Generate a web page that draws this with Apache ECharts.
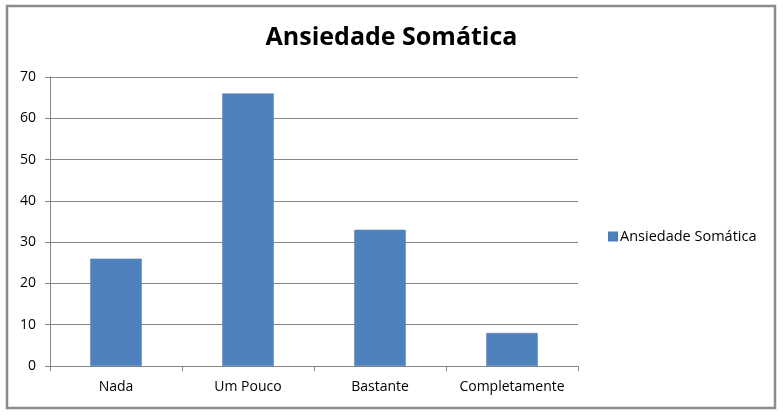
<!DOCTYPE html>
<html>
<head>
<meta charset="utf-8">
<script src="https://cdn.jsdelivr.net/npm/echarts@6/dist/echarts.min.js"></script>
<style>
  html, body { margin: 0; padding: 0; background: #fff; }
  #main { width: 783px; height: 416px; }
</style>
</head>
<body>
<div id="main"></div>
<script>
// dados do gráfico
var categorias = ['Nada', 'Um Pouco', 'Bastante', 'Completamente'];
var valores = [26, 66, 33, 8];
var nomeSerie = 'Ansiedade Somática';

var myChart = echarts.init(document.getElementById('main'));
var fonte = 'Open Sans';

var option = {
    animation: false,
    textStyle: { fontFamily: fonte },
    title: {
        text: 'Ansiedade Somática',
        left: 'center',
        top: 20,
        textStyle: { fontSize: 25, fontWeight: 'bold', color: '#000', fontFamily: fonte }
    },
    legend: {
        orient: 'vertical',
        left: 603,
        top: 224,
        itemWidth: 8,
        itemHeight: 8,
        itemGap: 6,
        icon: 'rect',
        textStyle: { fontSize: 14.5, color: '#000', fontFamily: fonte, padding: [0, 0, 0, -2] }
    },
    grid: { left: 50, right: 205, top: 77, bottom: 50 },
    xAxis: {
        type: 'category',
        data: categorias,
        axisLine: { lineStyle: { color: '#868686', width: 1 } },
        axisTick: { show: true, length: 5, alignWithLabel: false, lineStyle: { color: '#868686' } },
        axisLabel: { interval: 0, color: '#000', fontSize: 14, margin: 14, fontFamily: fonte }
    },
    yAxis: {
        type: 'value',
        min: 0,
        max: 70,
        interval: 10,
        axisLine: { show: true, lineStyle: { color: '#868686', width: 1 } },
        axisTick: { show: true, length: 5, lineStyle: { color: '#868686' } },
        axisLabel: { color: '#000', fontSize: 14, margin: 14, fontFamily: fonte },
        splitLine: { lineStyle: { color: '#868686', width: 1 } }
    },
    graphic: [{
        type: 'rect',
        shape: { x: 7, y: 6, width: 768, height: 402 },
        style: { fill: 'none', stroke: '#8c8c8c', lineWidth: 2.5 },
        silent: true
    }],
    series: [{
        name: nomeSerie,
        type: 'bar',
        data: valores,
        barWidth: '39%',
        itemStyle: { color: '#4F81BD', borderColor: '#4A7EBB', borderWidth: 0.5 }
    }]
};

myChart.setOption(option);
</script>
</body>
</html>
